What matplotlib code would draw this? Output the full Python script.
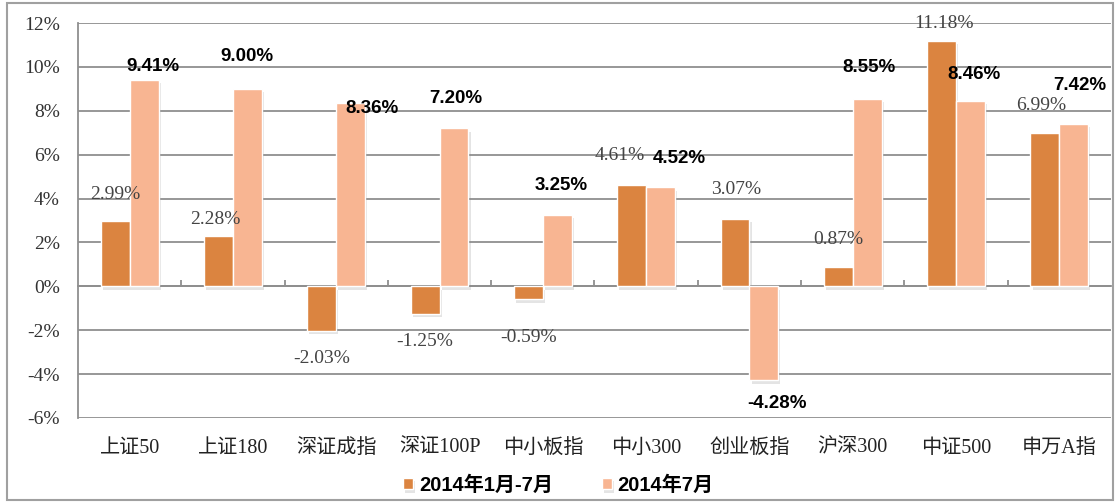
import matplotlib.pyplot as plt
import numpy as np
from matplotlib.patches import Rectangle
import matplotlib.patheffects as pe

# --- data ---
categories = ['上证50', '上证180', '深证成指', '深证100P', '中小板指',
              '中小300', '创业板指', '沪深300', '中证500', '申万A指']
jan_jul = [2.99, 2.28, -2.03, -1.25, -0.59, 4.61, 3.07, 0.87, 11.18, 6.99]
jul = [9.41, 9.00, 8.36, 7.20, 3.25, 4.52, -4.28, 8.55, 8.46, 7.42]
series_names = ['2014年1月-7月', '2014年7月']

# label offsets from the bar end, in pixels (dx, dy)
dark_off = [(0, 26), (-3, 17), (0, -28), (0, -28), (0, -38),
            (-12, 30), (1, 29), (0, 28), (2, 17), (-4, 27)]
light_off = [(9, 13), (0, 32), (21, -6), (2, 30), (4, 30),
             (19, 29), (13, -23), (2, 31), (3, 26), (6, 38)]

DARK = '#DB8440'
LIGHT = '#F8B592'
GRID = '#8f8f8f'
SERIF = ['Liberation Serif', 'Noto Sans CJK SC']
SANS_B = ['Liberation Sans', 'Noto Sans CJK SC']

fig = plt.figure(figsize=(11.17, 5.03), dpi=100)
ax = fig.add_axes([78 / 1117, 1 - 418 / 503, (1111 - 78) / 1117, (418 - 23) / 503])

# outer frame
fig.patches.append(Rectangle((7 / 1117, 3 / 503), 1106 / 1117, 497 / 503,
                             transform=fig.transFigure, fill=False,
                             edgecolor='#a0a0a0', linewidth=1.5))

x = np.arange(len(categories))
w = 0.28
shadow = [pe.SimplePatchShadow(offset=(1.5, -2.5), shadow_rgbFace='#888888', alpha=0.22), pe.Normal()]
b1 = ax.bar(x - w / 2, jan_jul, w, color=DARK, edgecolor='white', linewidth=1,
            label=series_names[0], zorder=3)
b2 = ax.bar(x + w / 2, jul, w, color=LIGHT, edgecolor='white', linewidth=1,
            label=series_names[1], zorder=3)
for r in list(b1) + list(b2):
    r.set_path_effects(shadow)

for i in range(len(categories)):
    ax.annotate(f'{jan_jul[i]:.2f}%', (x[i] - w / 2, jan_jul[i]),
                xytext=dark_off[i], textcoords='offset pixels',
                ha='center', va='center', fontsize=14, color='#444444',
                family=SERIF, zorder=5)
    ax.annotate(f'{jul[i]:.2f}%', (x[i] + w / 2, jul[i]),
                xytext=light_off[i], textcoords='offset pixels',
                ha='center', va='center', fontsize=13.5, color='black',
                fontweight='bold', family=SANS_B, zorder=5)

ax.set_xlim(-0.5, len(categories) - 0.5)
ax.set_ylim(-6, 12)
ax.set_yticks(np.arange(-6, 13, 2))
ax.set_yticklabels([f'{v}%' for v in range(-6, 13, 2)], family=SERIF,
                   fontsize=14, color='#333333')
ax.tick_params(axis='y', length=0, pad=13)
ax.yaxis.grid(True, color=GRID, linewidth=1.3, zorder=0)
ax.set_axisbelow(True)

for s in ['top', 'right']:
    ax.spines[s].set_visible(False)
ax.spines['left'].set_color(GRID)
ax.spines['left'].set_linewidth(1.3)
ax.spines['bottom'].set_position(('data', 0))
ax.spines['bottom'].set_color(GRID)
ax.spines['bottom'].set_linewidth(1.3)
ax.set_xticks(np.arange(0.5, len(categories) - 0.5, 1))
ax.set_xticklabels([])
ax.tick_params(axis='x', direction='in', length=4, width=1.3, color=GRID)

sec = ax.secondary_xaxis('bottom')
sec.set_xticks(x)
sec.set_xticklabels(categories, family=SERIF, fontsize=14.5, color='#222222')
sec.tick_params(length=0, pad=15)
sec.spines['bottom'].set_visible(False)

leg = fig.legend(handles=[b1, b2], loc='center', bbox_to_anchor=(0.5, 1 - 485 / 503),
                 ncol=2, frameon=False, handlelength=0.5, handleheight=0.5,
                 handletextpad=0.3, columnspacing=2.4,
                 prop={'family': SANS_B, 'weight': 'bold', 'size': 14.5})

fig.savefig('out.png', dpi=100)
